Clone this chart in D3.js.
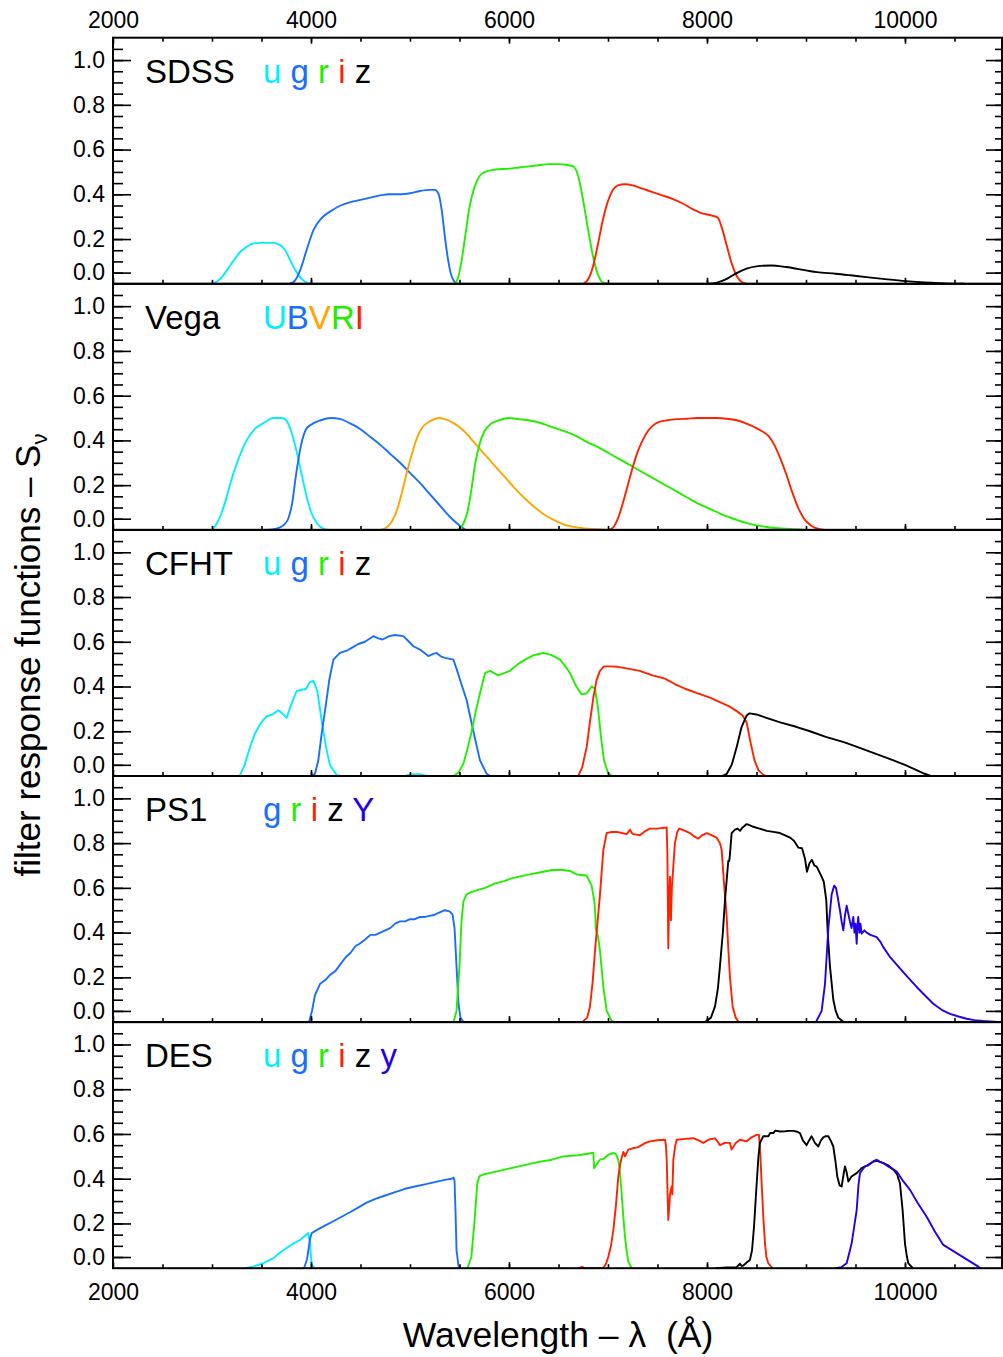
<!DOCTYPE html>
<html><head><meta charset="utf-8">
<script src="https://cdn.jsdelivr.net/npm/d3@7"></script>
<style>
body{margin:0;background:#fff;}
svg{display:block;font-family:"Liberation Sans",Arial,Helvetica,sans-serif;}
</style></head><body>
<svg id="chart" width="1003" height="1357"></svg>
<script>
// ---------- tick labels ----------
const xTickValues = [2000, 4000, 6000, 8000, 10000];
const yTickValues = [0.05, 0.2, 0.4, 0.6, 0.8, 1.0];
const yTickLabels = ["0.0", "0.2", "0.4", "0.6", "0.8", "1.0"];
const panelNames = ["SDSS", "Vega", "CFHT", "PS1", "DES"];

// ---------- SDSS ----------
const sdss_u = [[2990,0],[3050,0.01],[3100,0.03],[3150,0.06],[3212,0.10],[3280,0.14],[3350,0.165],[3414,0.18],[3500,0.183],[3616,0.183],[3680,0.175],[3740,0.15],[3790,0.105],[3850,0.055],[3910,0.02],[3970,0.003],[4020,0]];
const sdss_g = [[3780,0],[3830,0.01],[3890,0.06],[3955,0.15],[4025,0.24],[4100,0.29],[4200,0.325],[4300,0.35],[4400,0.365],[4500,0.375],[4600,0.385],[4700,0.395],[4800,0.40],[4900,0.40],[5000,0.405],[5100,0.415],[5200,0.42],[5250,0.42],[5290,0.40],[5320,0.33],[5350,0.22],[5380,0.12],[5410,0.05],[5440,0.015],[5480,0]];
const sdss_r = [[5440,0],[5480,0.02],[5520,0.1],[5560,0.22],[5600,0.34],[5650,0.43],[5700,0.48],[5760,0.50],[5850,0.51],[6000,0.515],[6100,0.52],[6200,0.525],[6300,0.53],[6400,0.535],[6500,0.535],[6600,0.53],[6650,0.525],[6700,0.48],[6750,0.37],[6800,0.24],[6850,0.12],[6900,0.04],[6950,0.005],[7000,0]];
const sdss_i = [[6750,0],[6800,0.02],[6850,0.08],[6900,0.18],[6950,0.29],[7000,0.37],[7050,0.42],[7100,0.44],[7170,0.445],[7250,0.44],[7350,0.425],[7450,0.41],[7550,0.395],[7650,0.38],[7750,0.36],[7850,0.335],[7950,0.315],[8050,0.305],[8110,0.295],[8150,0.25],[8200,0.17],[8250,0.09],[8300,0.035],[8360,0.005],[8400,0]];
const sdss_z = [[8000,0],[8100,0.005],[8200,0.022],[8300,0.048],[8400,0.068],[8500,0.078],[8650,0.082],[8800,0.075],[9000,0.06],[9110,0.052],[9300,0.045],[9450,0.038],[9610,0.03],[9800,0.021],[10010,0.012],[10200,0.006],[10300,0.004],[10450,0.001],[10600,0]];

// ---------- Vega ----------
const vega_U = [[3000,0],[3050,0.03],[3100,0.08],[3150,0.15],[3200,0.23],[3270,0.32],[3350,0.40],[3430,0.45],[3530,0.48],[3620,0.50],[3700,0.50],[3750,0.49],[3800,0.44],[3850,0.36],[3900,0.26],[3950,0.16],[4000,0.08],[4060,0.03],[4130,0.005],[4200,0]];
const vega_B = [[3550,0],[3650,0.005],[3720,0.02],[3770,0.05],[3810,0.12],[3850,0.25],[3900,0.38],[3950,0.45],[4000,0.47],[4100,0.49],[4200,0.50],[4300,0.495],[4400,0.475],[4500,0.45],[4600,0.415],[4700,0.38],[4800,0.34],[4900,0.30],[5000,0.255],[5100,0.21],[5200,0.16],[5300,0.11],[5400,0.06],[5500,0.02],[5560,0]];
const vega_V = [[4700,0],[4760,0.01],[4820,0.04],[4870,0.09],[4920,0.17],[4970,0.26],[5020,0.34],[5070,0.41],[5120,0.455],[5200,0.485],[5300,0.50],[5350,0.495],[5450,0.475],[5550,0.44],[5650,0.39],[5750,0.34],[5850,0.29],[5950,0.24],[6050,0.19],[6150,0.145],[6250,0.105],[6350,0.07],[6450,0.045],[6550,0.025],[6700,0.01],[6900,0.003],[7000,0]];
const vega_R = [[5480,0],[5530,0.02],[5580,0.08],[5620,0.18],[5660,0.30],[5700,0.38],[5750,0.44],[5820,0.475],[5900,0.49],[6000,0.50],[6100,0.495],[6200,0.49],[6300,0.48],[6400,0.465],[6500,0.45],[6600,0.435],[6700,0.415],[6800,0.39],[6900,0.37],[7000,0.345],[7100,0.32],[7200,0.295],[7300,0.27],[7400,0.245],[7500,0.22],[7600,0.195],[7700,0.17],[7800,0.145],[7900,0.12],[8000,0.10],[8100,0.08],[8200,0.06],[8300,0.045],[8400,0.03],[8500,0.02],[8600,0.013],[8800,0.005],[9000,0]];
const vega_I = [[7000,0],[7050,0.01],[7100,0.05],[7150,0.12],[7200,0.2],[7250,0.28],[7300,0.35],[7350,0.40],[7400,0.44],[7450,0.465],[7500,0.48],[7600,0.49],[7700,0.495],[7800,0.497],[7900,0.50],[8000,0.50],[8100,0.50],[8200,0.497],[8300,0.49],[8400,0.475],[8500,0.455],[8560,0.44],[8620,0.42],[8680,0.38],[8740,0.32],[8800,0.25],[8860,0.17],[8920,0.10],[8980,0.05],[9050,0.02],[9120,0.005],[9200,0]];

// ---------- CFHT ----------
const cfht_u = [[3280,0],[3330,0.05],[3384,0.13],[3434,0.19],[3490,0.235],[3552,0.267],[3610,0.275],[3670,0.294],[3710,0.28],[3754,0.26],[3800,0.32],[3855,0.38],[3950,0.39],[3990,0.42],[4023,0.425],[4064,0.38],[4107,0.25],[4151,0.13],[4192,0.048],[4259,0.005],[4300,0],[4950,0],[5000,0.007],[5100,0.008],[5170,0]];
const cfht_g = [[3990,0],[4040,0.01],[4074,0.07],[4108,0.19],[4152,0.325],[4185,0.43],[4226,0.52],[4293,0.55],[4360,0.56],[4420,0.575],[4478,0.59],[4545,0.60],[4630,0.625],[4680,0.615],[4723,0.61],[4790,0.625],[4848,0.63],[4933,0.625],[4990,0.60],[5034,0.58],[5101,0.565],[5185,0.536],[5230,0.545],[5269,0.55],[5310,0.535],[5353,0.528],[5438,0.52],[5470,0.48],[5505,0.43],[5572,0.34],[5640,0.20],[5707,0.07],[5774,0.01],[5810,0]];
const cfht_r = [[5438,0],[5490,0.015],[5539,0.055],[5580,0.12],[5623,0.20],[5665,0.29],[5707,0.37],[5758,0.46],[5808,0.47],[5850,0.46],[5892,0.45],[5950,0.46],[6010,0.47],[6090,0.50],[6162,0.52],[6250,0.54],[6347,0.55],[6430,0.54],[6515,0.52],[6570,0.49],[6616,0.46],[6680,0.40],[6734,0.365],[6785,0.37],[6835,0.40],[6869,0.39],[6900,0.30],[6930,0.17],[6960,0.07],[7000,0.015],[7040,0]];
const cfht_i = [[6700,0],[6740,0.04],[6785,0.13],[6820,0.25],[6852,0.35],[6885,0.43],[6919,0.47],[6960,0.49],[7020,0.49],[7100,0.488],[7200,0.48],[7320,0.47],[7450,0.45],[7575,0.435],[7680,0.41],[7780,0.39],[7900,0.37],[8030,0.35],[8130,0.33],[8230,0.31],[8300,0.29],[8360,0.27],[8400,0.24],[8440,0.15],[8480,0.07],[8520,0.025],[8570,0.005],[8600,0]];
const cfht_z = [[8150,0],[8200,0.01],[8250,0.05],[8300,0.13],[8350,0.22],[8400,0.27],[8430,0.28],[8500,0.275],[8600,0.26],[8740,0.24],[8900,0.22],[9040,0.2],[9200,0.175],[9390,0.15],[9550,0.125],[9700,0.1],[9850,0.075],[10000,0.05],[10100,0.03],[10200,0.01],[10260,0]];

// ---------- PS1 ----------
const ps1_g = [[3980,0],[4010,0.05],[4040,0.12],[4090,0.17],[4150,0.19],[4190,0.21],[4250,0.23],[4300,0.26],[4350,0.29],[4400,0.31],[4450,0.34],[4490,0.35],[4550,0.37],[4600,0.39],[4650,0.39],[4700,0.40],[4750,0.41],[4800,0.42],[4850,0.44],[4900,0.45],[4950,0.45],[5000,0.46],[5050,0.46],[5100,0.47],[5150,0.47],[5200,0.475],[5250,0.48],[5300,0.49],[5350,0.50],[5400,0.495],[5430,0.48],[5450,0.42],[5470,0.25],[5490,0.08],[5510,0.02],[5540,0]];
const ps1_r = [[5440,0],[5470,0.05],[5500,0.25],[5520,0.45],[5540,0.54],[5570,0.57],[5610,0.58],[5680,0.59],[5760,0.60],[5860,0.62],[5950,0.63],[6010,0.64],[6100,0.65],[6210,0.66],[6320,0.67],[6434,0.68],[6545,0.68],[6620,0.675],[6684,0.66],[6785,0.655],[6835,0.61],[6862,0.54],[6872,0.48],[6876,0.42],[6900,0.38],[6919,0.32],[6953,0.157],[6987,0.05],[7037,0.005],[7070,0]];
const ps1_i = [[6740,0],[6790,0.02],[6818,0.07],[6845,0.18],[6869,0.32],[6895,0.45],[6919,0.57],[6953,0.77],[6987,0.845],[7040,0.85],[7088,0.85],[7140,0.845],[7189,0.84],[7222,0.86],[7240,0.845],[7256,0.84],[7323,0.835],[7380,0.855],[7424,0.865],[7500,0.865],[7593,0.87],[7600,0.75],[7609,0.33],[7618,0.55],[7626,0.65],[7636,0.455],[7645,0.6],[7653,0.65],[7676,0.80],[7700,0.85],[7720,0.865],[7780,0.855],[7828,0.845],[7870,0.83],[7912,0.82],[7950,0.835],[7996,0.845],[8050,0.835],[8097,0.825],[8130,0.80],[8148,0.77],[8172,0.62],[8199,0.47],[8215,0.33],[8232,0.20],[8259,0.07],[8290,0.02],[8320,0]];
const ps1_z = [[7980,0],[8040,0.02],[8081,0.07],[8110,0.15],[8131,0.25],[8160,0.40],[8182,0.545],[8215,0.72],[8225,0.72],[8232,0.75],[8249,0.845],[8283,0.86],[8310,0.865],[8333,0.855],[8360,0.87],[8401,0.885],[8430,0.88],[8468,0.873],[8530,0.865],[8603,0.855],[8670,0.85],[8737,0.845],[8790,0.835],[8838,0.825],[8880,0.81],[8922,0.78],[8960,0.777],[8990,0.73],[9010,0.672],[9035,0.71],[9060,0.725],[9085,0.70],[9108,0.695],[9158,0.65],[9180,0.627],[9205,0.545],[9220,0.395],[9242,0.25],[9276,0.10],[9300,0.05],[9326,0.02],[9380,0]];
const ps1_Y = [[9100,0],[9158,0.05],[9192,0.17],[9226,0.42],[9259,0.57],[9285,0.61],[9303,0.60],[9320,0.56],[9343,0.50],[9360,0.45],[9377,0.41],[9395,0.48],[9411,0.52],[9425,0.49],[9444,0.45],[9460,0.42],[9478,0.47],[9490,0.40],[9500,0.44],[9512,0.35],[9520,0.43],[9528,0.47],[9540,0.40],[9550,0.44],[9562,0.395],[9590,0.41],[9613,0.40],[9650,0.39],[9714,0.38],[9750,0.36],[9781,0.335],[9850,0.29],[9949,0.24],[10030,0.20],[10118,0.157],[10200,0.12],[10286,0.082],[10370,0.055],[10455,0.037],[10540,0.025],[10623,0.015],[10700,0.009],[10791,0.005],[10900,0.002],[10980,0]];

// ---------- DES ----------
const des_u = [[3340,0],[3420,0.008],[3519,0.022],[3620,0.045],[3690,0.07],[3754,0.09],[3820,0.11],[3889,0.126],[3940,0.145],[3973,0.157],[3990,0.11],[4000,0.05],[4007,0.015],[4040,0]];
const des_g = [[3930,0],[3960,0.04],[3973,0.08],[3990,0.13],[4007,0.157],[4057,0.17],[4140,0.19],[4226,0.21],[4310,0.23],[4394,0.25],[4480,0.272],[4562,0.293],[4650,0.31],[4750,0.325],[4850,0.34],[4950,0.355],[5050,0.365],[5150,0.375],[5250,0.385],[5350,0.395],[5420,0.40],[5440,0.405],[5450,0.39],[5460,0.25],[5470,0.08],[5490,0.01],[5510,0]];
const des_r = [[5580,0],[5620,0.05],[5650,0.2],[5680,0.38],[5700,0.41],[5750,0.42],[5800,0.425],[5900,0.435],[6000,0.445],[6100,0.455],[6200,0.465],[6300,0.475],[6434,0.485],[6549,0.50],[6700,0.505],[6840,0.515],[6852,0.515],[6860,0.447],[6880,0.46],[6919,0.485],[6960,0.49],[7003,0.507],[7054,0.515],[7080,0.51],[7104,0.485],[7120,0.43],[7138,0.335],[7155,0.23],[7172,0.14],[7190,0.07],[7205,0.03],[7239,0]];
const des_i = [[6700,0],[6740,0.006],[6760,0],[6950,0],[6980,0.02],[7003,0.05],[7030,0.1],[7054,0.17],[7080,0.28],[7104,0.41],[7130,0.48],[7155,0.52],[7172,0.50],[7205,0.53],[7256,0.537],[7300,0.54],[7340,0.55],[7380,0.56],[7424,0.567],[7500,0.572],[7576,0.574],[7585,0.55],[7593,0.485],[7609,0.216],[7620,0.28],[7626,0.33],[7643,0.365],[7650,0.33],[7660,0.485],[7680,0.55],[7694,0.574],[7780,0.578],[7862,0.581],[7920,0.57],[7963,0.56],[8020,0.575],[8081,0.58],[8100,0.57],[8131,0.55],[8180,0.56],[8232,0.56],[8249,0.53],[8290,0.56],[8333,0.574],[8401,0.567],[8450,0.585],[8502,0.596],[8525,0.596],[8540,0.5],[8552,0.38],[8570,0.22],[8586,0.11],[8600,0.05],[8620,0.022],[8660,0]];
const des_z = [[8090,0],[8200,0.003],[8299,0.005],[8333,0.02],[8350,0.01],[8367,0.012],[8400,0.025],[8434,0.037],[8455,0.08],[8475,0.186],[8502,0.38],[8520,0.5],[8535,0.56],[8569,0.59],[8620,0.59],[8640,0.605],[8670,0.604],[8690,0.615],[8737,0.611],[8790,0.612],[8830,0.614],[8872,0.614],[8910,0.61],[8939,0.604],[8970,0.57],[9006,0.55],[9030,0.57],[9057,0.59],[9090,0.56],[9125,0.544],[9150,0.57],[9175,0.585],[9200,0.59],[9226,0.59],[9250,0.57],[9276,0.544],[9300,0.47],[9316,0.41],[9340,0.37],[9360,0.365],[9380,0.42],[9394,0.455],[9410,0.43],[9428,0.387],[9460,0.41],[9512,0.425],[9562,0.447],[9620,0.46],[9680,0.477],[9720,0.48],[9781,0.47],[9830,0.46],[9882,0.44],[9920,0.42],[9949,0.38],[9976,0.26],[10000,0.11],[10020,0.05],[10034,0.022],[10080,0]];
const des_y = [[9300,0],[9360,0.005],[9411,0.022],[9461,0.11],[9512,0.26],[9530,0.37],[9545,0.425],[9570,0.44],[9596,0.455],[9630,0.46],[9660,0.47],[9690,0.48],[9714,0.485],[9750,0.475],[9781,0.47],[9830,0.455],[9870,0.445],[9916,0.432],[9980,0.39],[10051,0.35],[10130,0.29],[10219,0.23],[10300,0.165],[10387,0.104],[10741,0.007],[10760,0]];

// ---------- legends ----------
const legendSDSS = ["u","g","r","i","z"];
const legendVega = ["U","B","V","R","I"];
const legendCFHT = ["u","g","r","i","z"];
const legendPS1  = ["g","r","i","z","Y"];
const legendDES  = ["u","g","r","i","z","y"];

const COL = {cyan:"#00EEFF", blue:"#1A6EFF", green:"#22EE00", red:"#FF2200", orange:"#FFA500", black:"#000000", violet:"#2200EE"};

const panels = [
  {name:panelNames[0], sep:" ", legend:legendSDSS, colors:["cyan","blue","green","red","black"], curves:[sdss_u,sdss_g,sdss_r,sdss_i,sdss_z], smooth:true},
  {name:panelNames[1], sep:"",  legend:legendVega, colors:["cyan","blue","orange","green","red"], curves:[vega_U,vega_B,vega_V,vega_R,vega_I], smooth:true},
  {name:panelNames[2], sep:" ", legend:legendCFHT, colors:["cyan","blue","green","red","black"], curves:[cfht_u,cfht_g,cfht_r,cfht_i,cfht_z], smooth:false},
  {name:panelNames[3], sep:" ", legend:legendPS1,  colors:["blue","green","red","black","violet"], curves:[ps1_g,ps1_r,ps1_i,ps1_z,ps1_Y], smooth:false},
  {name:panelNames[4], sep:" ", legend:legendDES,  colors:["cyan","blue","green","red","black","violet"], curves:[des_u,des_g,des_r,des_i,des_z,des_y], smooth:false}
];

// ---------- layout ----------
const L = 113, R = 1002, T0 = 37.7, PH = 246.1;
const svg = d3.select("#chart");
const x = d3.scaleLinear().domain([2000, 10980]).range([L, R]);
const xMinor = d3.range(2500, 11000, 500);
const yMinor = d3.range(1, 22).map(i => +(i * 0.05).toFixed(2));

function styleAxis(g){
  g.select(".domain").remove();
  g.selectAll(".tick line").attr("stroke","#000").attr("stroke-width",1.6);
  g.selectAll("text").attr("fill","#000").attr("font-size",23);
}

panels.forEach((p, k) => {
  const top = T0 + k * PH, bot = top + PH;
  const y = d3.scaleLinear().domain([0, 1.1]).range([bot, top]);
  const g = svg.append("g");

  const clipId = "clip" + k;
  svg.append("clipPath").attr("id", clipId).append("rect")
    .attr("x", L).attr("y", top).attr("width", R - L).attr("height", PH);

  // curves
  const line = d3.line().x(d => x(d[0])).y(d => y(d[1]))
    .curve(p.smooth ? d3.curveMonotoneX : d3.curveLinear);
  const cg = g.append("g").attr("clip-path", `url(#${clipId})`);
  p.curves.forEach((c, i) => {
    cg.append("path").attr("d", line(c)).attr("fill","none")
      .attr("stroke", COL[p.colors[i]]).attr("stroke-width", 1.9)
      .attr("stroke-linejoin","round");
  });

  // y axes (left and right)
  g.append("g").attr("transform", `translate(${L},0)`)
    .call(d3.axisRight(y).tickValues(yMinor).tickSize(10).tickFormat("")).call(styleAxis);
  g.append("g").attr("transform", `translate(${L},0)`)
    .call(d3.axisRight(y).tickValues(yTickValues).tickSize(18).tickFormat("")).call(styleAxis);
  g.append("g").attr("transform", `translate(${L},0)`)
    .call(d3.axisLeft(y).tickValues(yTickValues).tickSize(0).tickPadding(8)
      .tickFormat((d,i) => yTickLabels[i])).call(styleAxis);
  g.append("g").attr("transform", `translate(${R},0)`)
    .call(d3.axisLeft(y).tickValues(yMinor).tickSize(7).tickFormat("")).call(styleAxis);
  g.append("g").attr("transform", `translate(${R},0)`)
    .call(d3.axisLeft(y).tickValues(yTickValues).tickSize(16).tickFormat("")).call(styleAxis);

  // x ticks on bottom of panel
  g.append("g").attr("transform", `translate(0,${bot})`)
    .call(d3.axisTop(x).tickValues(xMinor).tickSize(4).tickFormat("")).call(styleAxis);
  g.append("g").attr("transform", `translate(0,${bot})`)
    .call(d3.axisTop(x).tickValues(xTickValues).tickSize(6).tickFormat("")).call(styleAxis);
  if (k === 0) {
    g.append("g").attr("transform", `translate(0,${top})`)
      .call(d3.axisBottom(x).tickValues(xMinor).tickSize(4).tickFormat("")).call(styleAxis);
    g.append("g").attr("transform", `translate(0,${top})`)
      .call(d3.axisBottom(x).tickValues(xTickValues).tickSize(6).tickFormat("")).call(styleAxis);
    g.append("g").attr("transform", `translate(0,${top})`)
      .call(d3.axisTop(x).tickValues(xTickValues).tickSize(0).tickPadding(10).tickFormat(d3.format("d"))).call(styleAxis);
  }
  if (k === panels.length - 1) {
    g.append("g").attr("transform", `translate(0,${bot})`)
      .call(d3.axisBottom(x).tickValues(xTickValues).tickSize(0).tickPadding(15).tickFormat(d3.format("d"))).call(styleAxis);
  }

  // frame
  g.append("rect").attr("x", L).attr("y", top).attr("width", R - L).attr("height", PH)
    .attr("fill","none").attr("stroke","#000").attr("stroke-width",2);

  // panel name
  g.append("text").attr("x", 145).attr("y", top + 45).attr("font-size", 33)
    .attr("fill","#000").text(p.name);
  // legend letters
  const lt = g.append("text").attr("x", 263).attr("y", top + 45).attr("font-size", 33)
    .style("white-space","pre");
  p.legend.forEach((s, i) => {
    lt.append("tspan").attr("fill", COL[p.colors[i]]).text(s);
    if (i < p.legend.length - 1 && p.sep) lt.append("tspan").text(p.sep);
  });
});

// axis titles
svg.append("text").attr("x", 558).attr("y", 1347).attr("text-anchor","middle")
  .attr("font-size", 35.5).attr("fill","#000").style("white-space","pre")
  .text("Wavelength \u2013 \u03BB  (\u00C5)");
const yt = svg.append("text").attr("transform","translate(40,655) rotate(-90)")
  .attr("text-anchor","middle").attr("font-size", 35).attr("fill","#000");
yt.append("tspan").text("filter response functions \u2013 S");
yt.append("tspan").attr("font-size", 22).attr("dy", 7).text("\u03BD");
</script>
</body></html>
